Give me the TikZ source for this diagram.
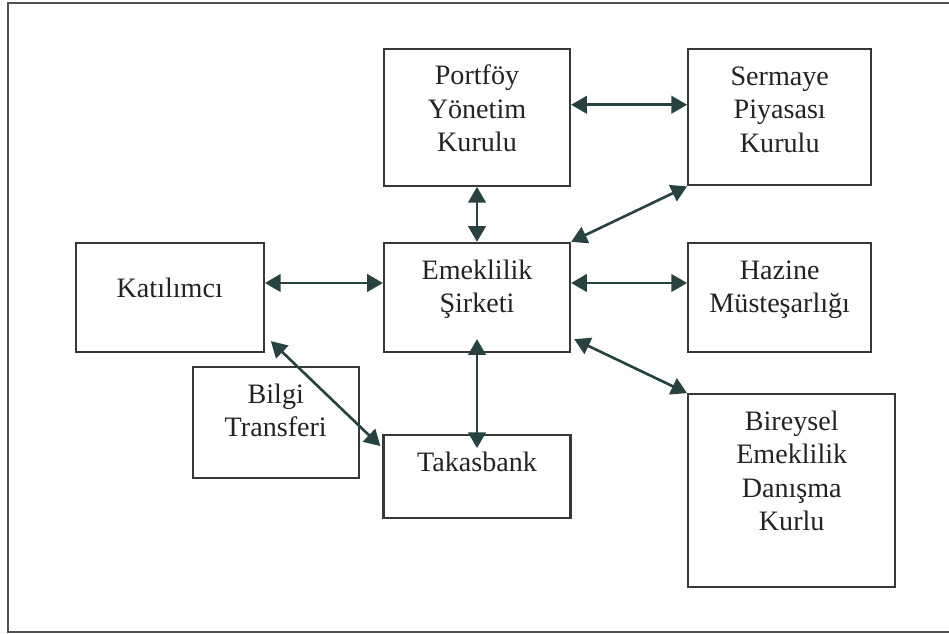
\documentclass[tikz,border=0pt]{standalone}
\usepackage{fontspec}
\setmainfont{Liberation Serif}
\usetikzlibrary{arrows.meta, positioning, calc}
\definecolor{linkcol}{RGB}{40,66,66}
\definecolor{boxcol}{RGB}{55,55,55}
\definecolor{framecol}{RGB}{80,80,80}
\definecolor{textcol}{RGB}{35,35,35}
\tikzstyle{arrow} = [line width=1.5pt, draw=linkcol, fill=linkcol, <->, >={Triangle[length=9pt,width=10pt]}]
\tikzset{
    % #1 width, #2 height, #3 number of text lines
    box/.style n args={3}{
        rectangle,
        draw=boxcol,
        line width=1.3pt,
        minimum width=#1,
        inner xsep=0pt,
        inner ysep=0pt,
        text height={20.5pt+(#3-1)*19pt},
        text depth={#2-20.5pt-(#3-1)*19pt},
        align=center,
        text=textcol,
        font=\fontsize{16pt}{19pt}\selectfont
    }
}
\begin{document}
\begin{tikzpicture}[x=0.02cm, y=-0.02cm]
	\useasboundingbox (0,0) rectangle (949,634);
	\draw [draw=framecol, line width=1.4pt] (949,3) -- (8,3) -- (8,632) -- (949,632);
	\node (emeklilik) [box={3.72cm}{2.18cm}{2}] at (477,297.5) {Emeklilik\\Şirketi};
	\node (portfoy) [box={3.72cm}{2.74cm}{3}, above=1.1cm of emeklilik] {Portföy\\Yönetim\\Kurulu};
	\node (sermaye) [box={3.66cm}{2.72cm}{3}, right=2.32cm of portfoy] {Sermaye\\Piyasası\\Kurulu};
	\node (hazine) [box={3.66cm}{2.18cm}{2}, right=2.32cm of emeklilik] {Hazine\\Müsteşarlığı};
	\node (katilimci) [box={3.76cm}{2.18cm}{1}, text height=31pt, text depth=2.18cm-31pt,
		left=2.36cm of emeklilik] {Katılımcı};
	\node (takasbank) [box={3.74cm}{1.66cm}{1}, below=1.62cm of emeklilik] {Takasbank};
	\node (bireysel) [box={4.14cm}{3.86cm}{4}, below=0.8cm of hazine.south west, anchor=north west]
		{Bireysel\\Emeklilik\\Danışma\\Kurlu};
	\node (bilgi) [box={3.32cm}{2.22cm}{2}, below right=0.26cm and 2.34cm of katilimci.south west]
		{Bilgi\\Transferi};
	\draw [arrow] ($(portfoy.east)+(0,-12.5)$) -- ($(sermaye.west)+(0,-12.5)$);
	\draw [arrow] (portfoy) -- (emeklilik);
	\draw [arrow] (sermaye.south west) -- (emeklilik.north east);
	\draw [arrow] ($(katilimci.east)+(0,-14.5)$) -- ($(emeklilik.west)+(0,-14.5)$);
	\draw [arrow] ($(emeklilik.east)+(0,-14.5)$) -- ($(hazine.west)+(0,-14.5)$);
	\draw [arrow] ($(emeklilik.south)+(0,-14)$) -- ($(takasbank.north)+(0,14)$);
	\draw [arrow] ($(emeklilik.south east)+(3,-14)$) -- (bireysel.north west);
	\draw [arrow] ($(katilimci.south east)+(6,-12)$) -- ($(takasbank.north west)+(-2,12)$);
\end{tikzpicture}
\end{document}
